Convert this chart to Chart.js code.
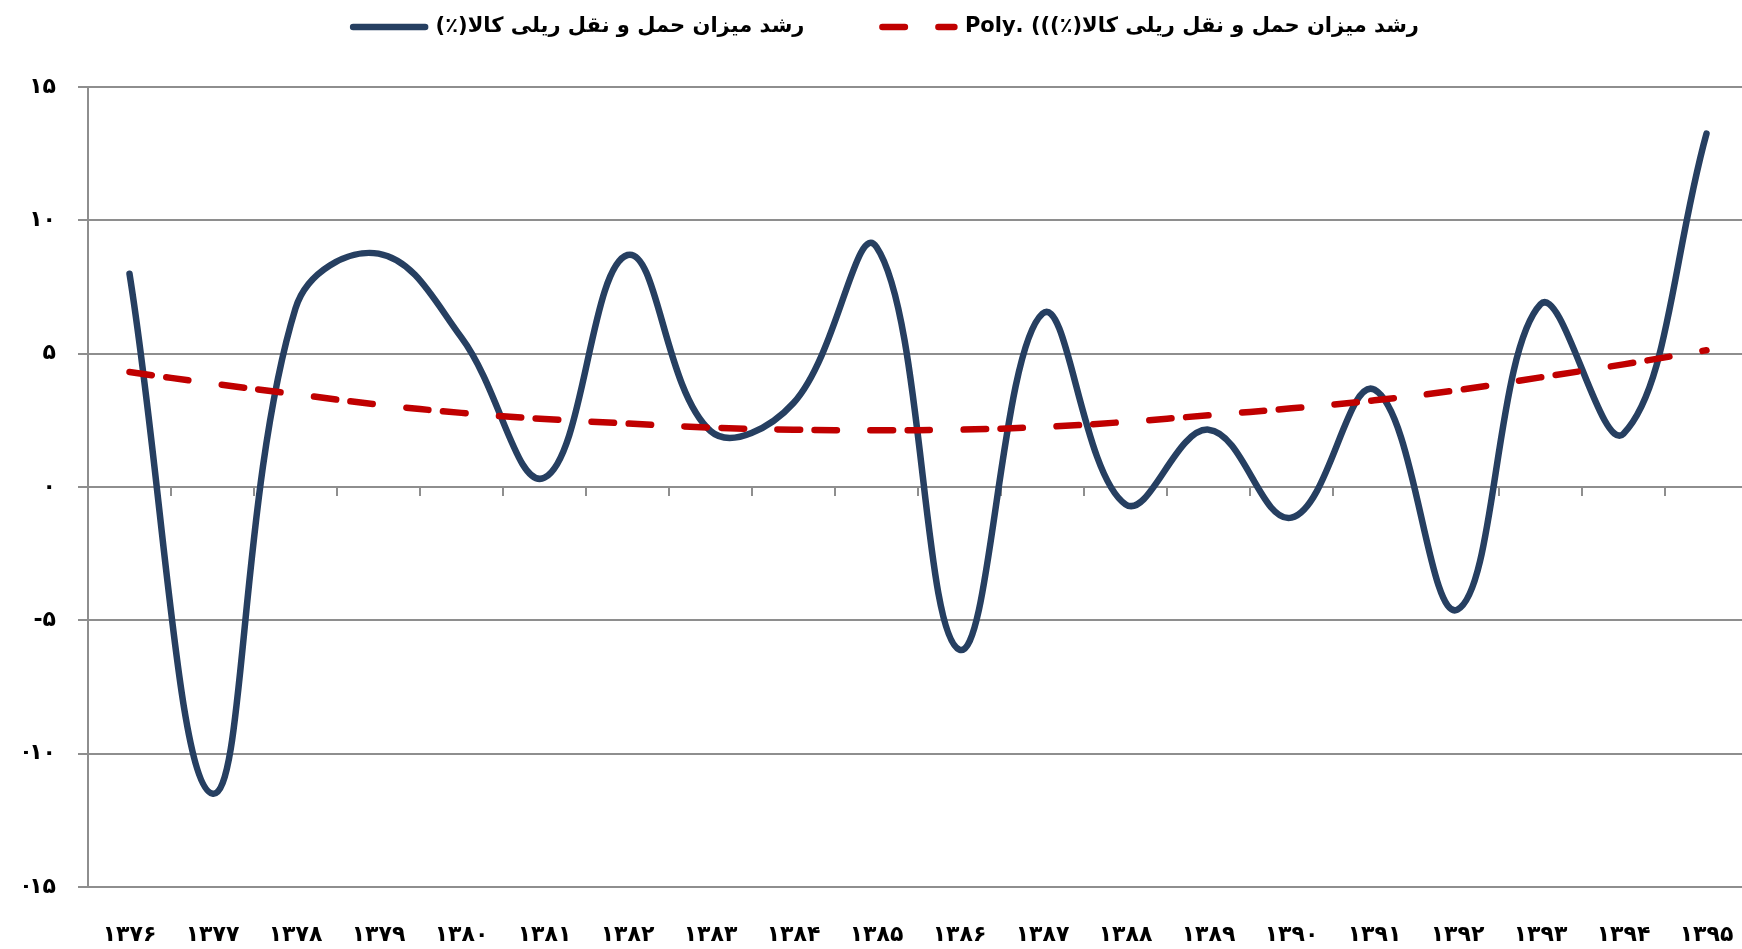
<!DOCTYPE html>
<html lang="fa">
<head>
<meta charset="utf-8">
<title>رشد میزان حمل و نقل ریلی کالا</title>
<script src="https://cdn.jsdelivr.net/npm/chart.js@4.4.1/dist/chart.umd.min.js"></script>
<style>
  html, body { margin: 0; padding: 0; background: #fff; overflow: hidden; }
  #wrap { width: 1748px; height: 949px; }
</style>
</head>
<body>
<div id="wrap"><canvas id="myChart" width="1748" height="949"></canvas></div>
<script>
// years (x categories), Persian digits as in the picture
var years = ['۱۳۷۶', '۱۳۷۷', '۱۳۷۸', '۱۳۷۹', '۱۳۸۰', '۱۳۸۱', '۱۳۸۲', '۱۳۸۳', '۱۳۸۴', '۱۳۸۵',
             '۱۳۸۶', '۱۳۸۷', '۱۳۸۸', '۱۳۸۹', '۱۳۹۰', '۱۳۹۱', '۱۳۹۲', '۱۳۹۳', '۱۳۹۴', '۱۳۹۵'];

// growth of rail freight (%)
var growth = [8.0, -11.5, 6.7, 8.75, 5.6, 0.35, 8.7, 2.1, 3.15, 9.0,
              -6.1, 6.5, -0.65, 2.15, -1.15, 3.65, -4.6, 6.85, 2.0, 13.25];

// polynomial trendline
var trend = [4.31, 3.88, 3.48, 3.09, 2.78, 2.55, 2.38, 2.23, 2.15, 2.13,
             2.15, 2.25, 2.44, 2.69, 2.95, 3.25, 3.63, 4.11, 4.6, 5.13];

var yTickValues = [-15, -10, -5, 0, 5, 10, 15];
var yTickLabels = ['-۱۵', '-۱۰', '-۵', '۰', '۵', '۱۰', '۱۵'];

var seriesName = 'رشد میزان حمل و نقل ریلی کالا(٪)';
var trendName = 'رشد میزان حمل و نقل ریلی کالا(٪))) .Poly';

var gridColor = '#8e8e8e';
var fontFam = "'DejaVu Sans', sans-serif";

Chart.defaults.font.family = fontFam;
Chart.defaults.color = '#000';

const data = {
  labels: years,
  datasets: [{
    label: seriesName,
    data: growth,
    xAxisID: 'x',
    borderColor: '#263f61',
    backgroundColor: '#263f61',
    borderWidth: 6.5,
    borderCapStyle: 'round',
    borderJoinStyle: 'round',
    pointRadius: 0,
    tension: 0.4,
    order: 2
  }, {
    label: trendName,
    data: trend,
    xAxisID: 'x',
    borderColor: '#c00000',
    backgroundColor: '#c00000',
    borderWidth: 6.5,
    borderDash: [22.5, 14.5, 22.5, 33.5],
    borderCapStyle: 'round',
    pointRadius: 0,
    tension: 0.4,
    order: 1
  }]
};

// legend samples: keep the dash of the trendline
function makeLabels(chart) {
  var items = Chart.defaults.plugins.legend.labels.generateLabels(chart);
  items.forEach(function(it) {
    var ds = chart.data.datasets[it.datasetIndex];
    it.lineCap = 'round';
    it.lineDash = ds.borderDash ? [22.5, 33.5] : [];
  });
  return items;
}

const config = {
  type: 'line',
  data: data,
  options: {
    responsive: false,
    animation: false,
    layout: { padding: { top: -61.5, left: 24, right: 0, bottom: 0 } },
    plugins: {
      tooltip: { enabled: false },
      legend: {
        position: 'top',
        textDirection: 'rtl',
        labels: {
          usePointStyle: true,
          pointStyle: 'line',
          pointStyleWidth: 72,
          padding: 78,
          color: '#000',
          font: { family: fontFam, size: 21, weight: 'bold' },
          generateLabels: makeLabels,
          sort: function(a, b) { return a.datasetIndex - b.datasetIndex; }
        }
      }
    },
    scales: {
      x: {
        type: 'category',
        position: 'bottom',
        offset: true,
        grid: { display: false, drawTicks: false },
        border: { display: false },
        ticks: {
          color: '#000',
          font: { family: fontFam, size: 22, weight: 'bold' },
          padding: 35,
          maxRotation: 0,
          autoSkip: false
        },
        afterFit: function(s) {
          s.height = 62;
          s.paddingLeft = 0;
          s.paddingRight = 0;
        }
      },
      xTicks: {
        type: 'category',
        axis: 'x',
        position: { y: 0 },
        offset: true,
        grid: { drawOnChartArea: false, drawTicks: true, tickLength: 9, color: gridColor, lineWidth: 2, offset: true },
        border: { display: false },
        ticks: { display: false }
      },
      xTop: {
        type: 'category',
        axis: 'x',
        position: 'top',
        grid: { display: false },
        border: { display: false },
        ticks: { display: false },
        afterFit: function(s) { s.height = 39.5; }
      },
      y: {
        min: -15,
        max: 15,
        ticks: {
          stepSize: 5,
          color: '#000',
          font: { family: fontFam, size: 22, weight: 'bold' },
          padding: 22,
          callback: function(value) {
            var i = yTickValues.indexOf(value);
            // isolate so the minus stays on the left
            return i >= 0 ? '\u2066' + yTickLabels[i] + '\u2069' : '';
          }
        },
        grid: { color: gridColor, lineWidth: 2, tickLength: 10 },
        border: { display: true, color: gridColor, width: 2 },
        afterFit: function(s) { s.width = 64; }
      }
    }
  }
};

const myChart = new Chart(document.getElementById('myChart'), config);
</script>
</body>
</html>
